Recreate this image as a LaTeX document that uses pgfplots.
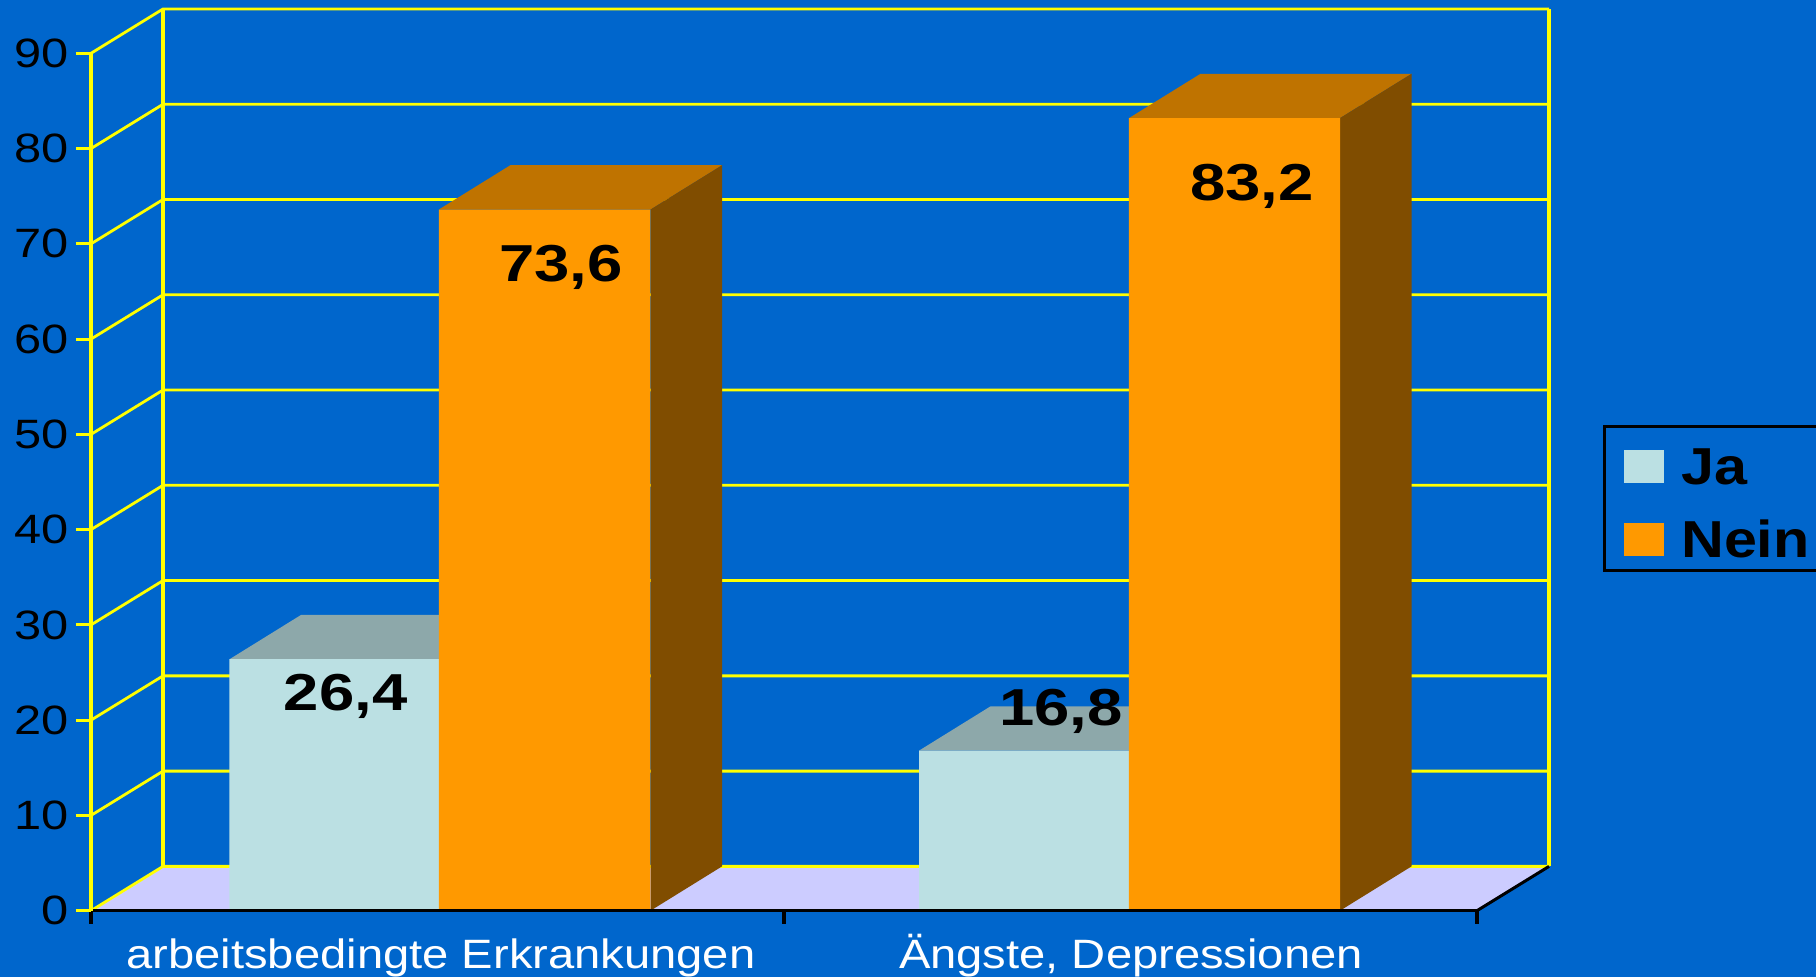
\documentclass[border=0pt]{standalone}
\usepackage{graphicx}
\usepackage{fontspec}
\setmainfont{Liberation Sans}
\usepackage{pgfplots}
\pgfplotsset{compat=1.18}
\definecolor{bg}{HTML}{0066CC}
\definecolor{wall}{HTML}{FFFF00}
\definecolor{floorc}{HTML}{CCCCFF}
\definecolor{ja}{HTML}{BBE0E3}
\definecolor{jatop}{HTML}{8DA8AA}
\definecolor{nein}{HTML}{FF9900}
\definecolor{neintop}{HTML}{BF7300}
\definecolor{neinside}{HTML}{804D00}
\pgfplotsset{jaswatch/.style={legend image code/.code={\path[##1,draw=none] (0pt,-10.55pt) rectangle (20pt,5.95pt);}}}
\begin{document}
% x axis runs in picture pixels (1px = 0.5pt), y in percent
\begin{tikzpicture}
  \path[use as bounding box,fill=bg] (-45.5pt,-33.15pt) rectangle ++(908pt,488.5pt);
  \begin{axis}[
      at={(0pt,0pt)},anchor=south west,
      scale only axis,width=693pt,height=428.7pt,
      xmin=91,xmax=1477,ymin=0,ymax=90,
      clip=false,axis on top,
      axis lines=left,axis line style={-},
      x axis line style={black,line width=1.7pt},
      y axis line style={wall,line width=1.7pt},
      unbounded coords=jump,
      tick align=outside,
      major tick length=7.5pt,minor tick length=6.5pt,
      ytick={0,10,...,90},
      ytick style={wall,line width=1.4pt},
      yticklabel={\scalebox{1.19}[1]{\pgfmathprintnumber{\tick}}},
      yticklabel style={font=\fontsize{20.5}{22}\selectfont,text=black,/pgf/number format/assume math mode=true},
      xtick={441,1131},
      xticklabels={\scalebox{1.15}[1]{arbeitsbedingte Erkrankungen},\scalebox{1.15}[1]{Ängste, Depressionen}},
      major x tick style={draw=none},
      minor xtick={91,784,1477},
      minor x tick style={black,line width=1.6pt},
      xticklabel style={font=\fontsize{20.5}{22}\selectfont,text=white,anchor=base,yshift=-21.5pt},
      legend style={at={(axis cs:1602.7,50.98)},anchor=north west,draw=black,line width=1.5pt,fill=none,
        font=\bfseries\fontsize{26}{30}\selectfont,inner xsep=10pt,inner ysep=3.1pt,row sep=12.1pt,
        /tikz/column sep=6.5pt},
      legend cell align=left,
      legend image code/.code={\path[#1,draw=none] (0pt,-8.25pt) rectangle (20pt,8.25pt);},
    ]
    % floor
    \addplot[fill=floorc,draw=none,forget plot] coordinates {(91,0)(1477,0)(1549,4.65)(163,4.65)};
    % side wall and back wall grid
    \addplot[wall,line width=1.4pt,forget plot] coordinates {
      (91,0)(163,4.65)(1549,4.65)(nan,nan)
      (91,10)(163,14.65)(1549,14.65)(nan,nan)
      (91,20)(163,24.65)(1549,24.65)(nan,nan)
      (91,30)(163,34.65)(1549,34.65)(nan,nan)
      (91,40)(163,44.65)(1549,44.65)(nan,nan)
      (91,50)(163,54.65)(1549,54.65)(nan,nan)
      (91,60)(163,64.65)(1549,64.65)(nan,nan)
      (91,70)(163,74.65)(1549,74.65)(nan,nan)
      (91,80)(163,84.65)(1549,84.65)(nan,nan)
      (91,90)(163,94.65)(1549,94.65)};
    \addplot[wall,line width=1.7pt,forget plot] coordinates {(163,4.65)(163,94.65)(nan,nan)(1549,4.65)(1549,94.65)};
    \addplot[black,line width=1.5pt,forget plot] coordinates {(1477,0)(1549,4.65)};
    % Ja, top faces
    \addplot[fill=jatop,draw=none,forget plot] coordinates {(229.6,26.4)(438.8,26.4)(510.3,31.05)(301.1,31.05)};
    \addplot[fill=jatop,draw=none,forget plot] coordinates {(919,16.8)(1129,16.8)(1200.5,21.45)(990.5,21.45)};
    % Ja, front faces
    \addplot[ybar,bar width=104.8pt,bar shift=0pt,fill=ja,draw=none,jaswatch]
      coordinates {(334.2,26.4)(1024,16.8)};
    \addlegendentry{\rule{0pt}{23.8pt}\scalebox{1.14}[1]{Ja}}
    % Nein, top and side faces
    \addplot[fill=neintop,draw=none,forget plot] coordinates {(438.8,73.6)(650.5,73.6)(722,78.25)(510.3,78.25)};
    \addplot[fill=neintop,draw=none,forget plot] coordinates {(1129,83.2)(1340,83.2)(1411.5,87.85)(1200.5,87.85)};
    \addplot[fill=neinside,draw=none,forget plot] coordinates {(650.5,0)(722,4.65)(722,78.25)(650.5,73.6)};
    \addplot[fill=neinside,draw=none,forget plot] coordinates {(1340,0)(1411.5,4.65)(1411.5,87.85)(1340,83.2)};
    % Nein, front faces
    \addplot[ybar,bar width=105.7pt,bar shift=0pt,fill=nein,draw=none] coordinates {(544.65,73.6)(1234.5,83.2)};
    \addlegendentry{\scalebox{1.14}[1]{Nein}\hspace{20pt}}
    % value labels
    \begin{scope}[every node/.style={anchor=base,inner sep=0pt,font=\bfseries\fontsize{26}{30}\selectfont,text=black}]
      \node at (axis cs:345.7,20.99) {\scalebox{1.22}[1]{26,4}};
      \node at (axis cs:561,66.05) {\scalebox{1.22}[1]{73,6}};
      \node at (axis cs:1061,19.4) {\scalebox{1.22}[1]{16,8}};
      \node at (axis cs:1252,74.6) {\scalebox{1.22}[1]{83,2}};
    \end{scope}
  \end{axis}
\end{tikzpicture}
\end{document}
